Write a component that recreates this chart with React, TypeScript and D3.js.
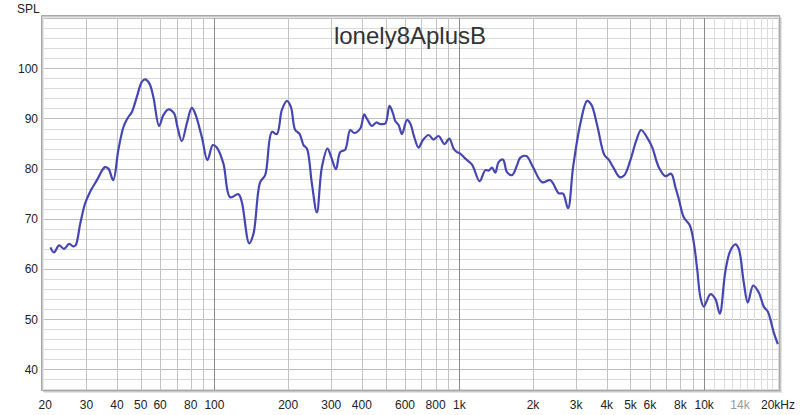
import React from "react";
import * as d3 from "d3";

const freqs = [
  21.4, 22.1, 23.2, 24.3, 25.5, 26.5, 27.1, 28.3, 29.6, 31.0, 33.1, 35.7, 36.9, 38.6, 40.5, 42.5, 44.1, 46.0, 48.2, 50.5,
  52.1, 54.2, 56.3, 59.4, 61.9, 64.9, 68.4, 70.6, 73.6, 77.1, 80.8, 83.4, 88.8, 93.6, 98.5, 102.2, 108.8, 115.9, 125.3, 129.4,
  138.6, 144.3, 153.7, 161.1, 171.6, 179.8, 188.5, 197.6, 205.2, 213.7, 222.4, 231.0, 238.5, 250.0, 262.0, 274.6, 289.4, 299.8, 313.3, 326.3,
  342.0, 358.5, 372.2, 394.0, 409.0, 422.0, 439.8, 457.8, 475.4, 498.4, 518.8, 535.8, 547.4, 564.8, 583.2, 611.2, 630.4, 654.6, 681.6, 710.4,
  749.0, 785.0, 822.8, 870.8, 910.0, 947.4, 978.2, 1009, 1058, 1127, 1210, 1277, 1317, 1360, 1403, 1447, 1508, 1566, 1642, 1721,
  1775, 1878, 2000, 2177, 2354, 2545, 2652, 2780, 2915, 3122, 3326, 3464, 3654, 3913, 4074, 4270, 4518, 4722, 4996, 5287,
  5527, 5849, 6131, 6523, 6948, 7328, 7630, 7873, 8252, 8730, 9064, 9360, 9656, 9961, 10612, 11118, 11578, 12216, 12804, 13422,
  13842, 14510, 15068, 15854, 16711, 17516, 18186, 19246, 19982,
];

const spl = [
  64.3, 63.3, 64.7, 64.0, 65.0, 64.5, 64.7, 69.0, 73.0, 75.3, 77.7, 80.3, 80.0, 77.7, 83.7, 88.3, 90.0, 91.3, 94.3, 97.3,
  97.8, 97.0, 94.3, 88.5, 90.7, 91.8, 91.0, 88.3, 85.5, 89.0, 92.1, 91.0, 86.3, 81.7, 84.7, 84.2, 81.0, 74.3, 74.9, 73.3,
  65.1, 67.0, 77.3, 78.7, 87.3, 86.9, 91.7, 93.5, 92.3, 87.7, 87.0, 84.7, 84.0, 77.0, 71.3, 80.3, 84.0, 82.3, 79.9, 83.3,
  83.8, 87.7, 87.1, 88.0, 90.8, 89.7, 88.5, 89.2, 88.9, 89.0, 92.5, 91.0, 89.5, 88.7, 86.9, 89.7, 89.0, 86.3, 84.2, 85.7,
  86.7, 85.8, 86.5, 84.9, 86.0, 84.0, 83.3, 83.0, 82.0, 80.8, 77.5, 79.7, 79.6, 80.2, 79.2, 81.3, 81.8, 79.3, 78.7, 80.7,
  82.2, 82.5, 80.3, 77.3, 77.7, 75.1, 75.0, 72.1, 80.3, 89.0, 93.5, 92.7, 88.7, 82.7, 81.8, 80.1, 78.3, 78.7, 81.7, 85.7,
  87.7, 86.2, 84.3, 80.3, 78.5, 79.0, 76.3, 74.0, 70.3, 68.7, 65.3, 60.0, 54.3, 52.5, 55.0, 54.0, 51.1, 59.7, 63.7, 64.9,
  64.0, 57.3, 53.3, 56.7, 55.3, 52.5, 51.5, 47.3, 45.0,
];

const yTicks = [40, 50, 60, 70, 80, 90, 100];
const xTickValues = [20, 30, 40, 50, 60, 80, 100, 200, 300, 400, 600, 800, 1000, 2000, 3000, 4000, 5000, 6000, 8000, 10000, 14000, 20000];
const xTickLabels = ["20", "30", "40", "50", "60", "80", "100", "200", "300", "400", "600", "800", "1k", "2k", "3k", "4k", "5k", "6k", "8k", "10k", "14k", "20kHz"];
const title = "lonely8AplusB";
const yLabel = "SPL";

const W = 800;
const H = 415;
const L = 43;
const R = 779;
const T = 17;
const B = 390;

export default function App() {
  const x = d3.scaleLog().domain([20, 20000]).range([43.3, 777.9]);
  const y = d3.scaleLinear().domain([40, 100]).range([369.3, 68.3]);

  const vMinor: number[] = [];
  const vHigh: number[] = [];
  const vMajor = [100, 1000, 10000];
  for (let f = 30; f < 100; f += 10) vMinor.push(f);
  for (let f = 200; f < 1000; f += 100) vMinor.push(f);
  for (let f = 2000; f < 10000; f += 1000) vMinor.push(f);
  for (let f = 11000; f <= 20000; f += 1000) vHigh.push(f);

  const hLines: number[] = [];
  for (let v = 36; v <= 110; v += 2) hLines.push(v);

  const pts: [number, number][] = freqs.map((f, i) => [x(f), y(spl[i])]);
  const line = d3.line<[number, number]>().x((d) => d[0]).y((d) => d[1]).curve(d3.curveCatmullRom.alpha(0.5));
  const path = line(pts) || "";

  const font = "Arial, 'Liberation Sans', sans-serif";

  return (
    <svg width={W} height={H} style={{ position: "absolute", left: 0, top: 0, background: "#fff" }} fontFamily={font}>
      <defs>
        <clipPath id="plotclip">
          <rect x={L} y={T} width={R - L} height={B - T} />
        </clipPath>
      </defs>
      <rect x={0} y={0} width={W} height={H} fill="#fff" />
      <rect x={L} y={T} width={R - L} height={B - T} fill="#fff" />
      <g clipPath="url(#plotclip)">
        {hLines.map((v) => (
          <line key={"h" + v} x1={L} x2={R} y1={Math.round(y(v)) + 0.5} y2={Math.round(y(v)) + 0.5}
            stroke={v % 10 === 0 ? "#bdbdbd" : "#dadada"} strokeWidth={1} />
        ))}
        {vHigh.map((f) => (
          <line key={"vh" + f} x1={Math.round(x(f)) + 0.5} x2={Math.round(x(f)) + 0.5} y1={T} y2={B} stroke="#dcdcdc" strokeWidth={1} />
        ))}
        {vMinor.map((f) => (
          <line key={"vm" + f} x1={Math.round(x(f)) + 0.5} x2={Math.round(x(f)) + 0.5} y1={T} y2={B} stroke="#c2c2c2" strokeWidth={1} />
        ))}
        {vMajor.map((f) => (
          <line key={"vM" + f} x1={Math.round(x(f)) + 0.5} x2={Math.round(x(f)) + 0.5} y1={T} y2={B} stroke="#8a8a8a" strokeWidth={1} />
        ))}
        <text x={410} y={44} textAnchor="middle" fontSize={24} fill="#333">{title}</text>
        <path d={path} fill="none" stroke="#4646b2" strokeWidth={2.2} strokeLinejoin="round" />
      </g>
      {/* bevel frame */}
      <line x1={L - 1.5} x2={R + 1} y1={T - 1.5} y2={T - 1.5} stroke="#a8a8a8" />
      <line x1={L - 1.5} x2={L - 1.5} y1={T - 1.5} y2={B + 1} stroke="#a8a8a8" />
      <line x1={L - 0.5} x2={R} y1={T - 0.5} y2={T - 0.5} stroke="#c8c8c8" />
      <line x1={L - 0.5} x2={L - 0.5} y1={T - 0.5} y2={B} stroke="#c8c8c8" />
      <line x1={L + 0.5} x2={R} y1={T + 0.5} y2={T + 0.5} stroke="#e6e6e6" />
      <line x1={L + 0.5} x2={L + 0.5} y1={T + 0.5} y2={B} stroke="#e6e6e6" />
      <line x1={R + 0.5} x2={R + 0.5} y1={T - 1} y2={B + 1} stroke="#a8a8a8" />
      <line x1={L - 1} x2={R + 1} y1={B + 0.5} y2={B + 0.5} stroke="#a8a8a8" />
      <line x1={R + 1.5} x2={R + 1.5} y1={T} y2={B + 2} stroke="#c8c8c8" />
      <line x1={L} x2={R + 2} y1={B + 1.5} y2={B + 1.5} stroke="#c8c8c8" />
      <line x1={R + 2.5} x2={R + 2.5} y1={T + 1} y2={B + 3} stroke="#e4e4e4" />
      <line x1={L + 1} x2={R + 3} y1={B + 2.5} y2={B + 2.5} stroke="#e4e4e4" />

      <text x={17} y={13} fontSize={12} fill="#222">{yLabel}</text>
      {yTicks.map((v) => (
        <text key={"yt" + v} x={38} y={y(v) + 4.5} textAnchor="end" fontSize={12} fill="#222">{v}</text>
      ))}
      {xTickValues.map((f, i) => {
        const last = i === xTickValues.length - 1;
        return (
          <text key={"xt" + f} x={last ? 795 : x(f) + (i === 0 ? 2 : 0)} y={409} textAnchor={last ? "end" : "middle"}
            fontSize={12} fill={f === 14000 ? "#999" : "#222"}>{xTickLabels[i]}</text>
        );
      })}
    </svg>
  );
}
